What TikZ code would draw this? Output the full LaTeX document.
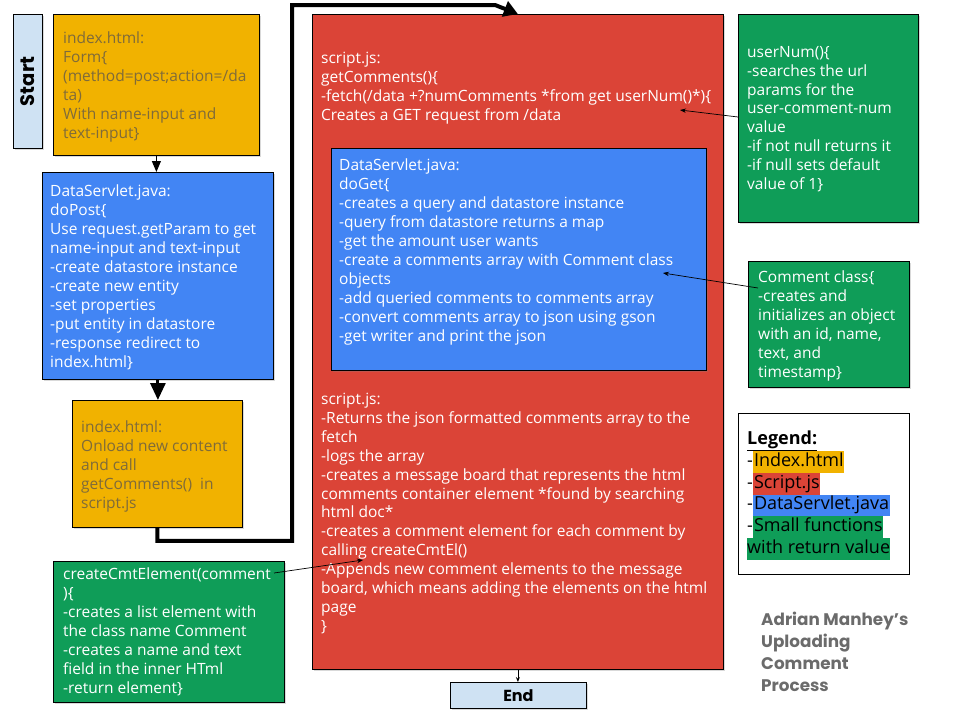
\documentclass[tikz,border=0pt]{standalone}
\usepackage{fontspec}
\setmainfont{Open Sans}
\newfontfamily\titlefont{Poppins}
\usetikzlibrary{arrows.meta,shadows}
\definecolor{gorange}{HTML}{F1B200}
\definecolor{gred}{HTML}{DB4437}
\definecolor{gblue}{HTML}{4285F4}
\definecolor{ggreen}{HTML}{0F9D58}
\definecolor{lblue}{HTML}{CFE2F3}
\definecolor{otext}{HTML}{7F6B3A}
\definecolor{ttext}{HTML}{6B6B6B}
\newcommand\bodyfont{\fontsize{15.5}{18.9}\selectfont}
\begin{document}
\begin{tikzpicture}[x=1pt,y=-1pt,
  box/.style={draw=black, line width=0.8pt, anchor=north west, inner sep=0pt,
    drop shadow={shadow xshift=1.2pt, shadow yshift=-1.5pt, opacity=0.3}},
  txt/.style={anchor=north west, inner sep=0pt, align=left, font=\bodyfont},
  thinarrow/.style={draw=black, line width=0.7pt, -{Stealth[length=6pt,width=4.5pt]}},
  hl/.style={anchor=west, inner xsep=0.6pt, inner ysep=0pt, text height=15.2pt, text depth=6.5pt, font=\fontsize{18}{21.7}\selectfont},
  bold/.style={font=\titlefont\bfseries\fontsize{16}{20}\selectfont}]
\useasboundingbox (0,0) rectangle (960,720);
% boxes
\node[box, fill=lblue, minimum width=29, minimum height=134] (st) at (13,14) {};
\node[rotate=90, font=\titlefont\bfseries\fontsize{19.5}{20}\selectfont] (stT) at (st.center) {Start};
\node[box, fill=gorange, minimum width=206, minimum height=141] (i1) at (53,14) {};
\node[box, fill=gblue, minimum width=231, minimum height=207] (ds) at (42,172) {};
\node[box, fill=gorange, minimum width=170, minimum height=127] (i2) at (72,400) {};
\node[box, fill=ggreen, minimum width=231, minimum height=141] (cc) at (53,561) {};
\node[box, fill=gred, minimum width=411, minimum height=655] (rd) at (312,14) {};
\node[box, fill=gblue, minimum width=375, minimum height=222] (dg) at (331,148) {};
\node[box, fill=lblue, minimum width=136, minimum height=26] (en) at (450,682) {};
\node[bold] (enT) at (en.center) {End};
\node[box, fill=ggreen, minimum width=180, minimum height=208] (un) at (738,14) {};
\node[box, fill=ggreen, minimum width=161, minimum height=126] (cm) at (748,261) {};
\node[draw=black, line width=0.8pt, fill=white, anchor=north west, inner sep=0pt, minimum width=171, minimum height=161] (lg) at (738,413) {};
% texts
\node[txt, text=otext] (i1T) at (63,32) {index.html:\\Form\{\\(method=post;action=/da\\ta)\\With name-input and\\text-input\}};
\node[txt, text=white] (dsT) at (50,185) {DataServlet.java:\\doPost\{\\Use request.getParam to get\\name-input and text-input\\-create datastore instance\\-create new entity\\-set properties\\-put entity in datastore\\-response redirect to\\index.html\}};
\node[txt, text=otext] (i2T) at (81,421) {index.html:\\Onload new content\\and call\\getComments()\ \ in\\script.js};
\node[txt, text=white] (ccT) at (63,568) {createCmtElement(comment\\)\{\\-creates a list element with\\the class name Comment\\-creates a name and text\\field in the inner HTml\\-return element\}};
\node[txt, text=white] (rdT1) at (321,52) {script.js:\\getComments()\{\\-fetch(/data +?numComments *from get userNum()*)\{\\Creates a GET request from /data};
\node[txt, text=white] (dgT) at (339,159) {DataServlet.java:\\doGet\{\\-creates a query and datastore instance\\-query from datastore returns a map\\-get the amount user wants\\-create a comments array with Comment class\\objects\\-add queried comments to comments array\\-convert comments array to json using gson\\-get writer and print the json};
\node[txt, text=white] (rdT2) at (321,393) {script.js:\\-Returns the json formatted comments array to the\\fetch\\-logs the array\\-creates a message board that represents the html\\comments container element *found by searching\\html doc*\\-creates a comment element for each comment by\\calling createCmtEl()\\-Appends new comment elements to the message\\board, which means adding the elements on the html\\page\\\}};
\node[txt, text=white] (unT) at (747,46) {userNum()\{\\-searches the url\\params for the\\user-comment-num\\value\\-if not null returns it\\-if null sets default\\value of 1\}};
\node[txt, text=white] (cmT) at (758,271) {Comment class\{\\-creates and\\initializes an object\\with an id, name,\\text, and\\timestamp\}};
% legend
\node[hl, anchor=west, inner xsep=0pt] (lg0) at (747,440) {\underline{\textbf{Legend:}}};
\node[hl, inner xsep=0pt] (lgd1) at (747,462) {-};
\node[hl, fill=gorange] (lg1) at (lgd1.east) {Index.html};
\node[hl, inner xsep=0pt] (lgd2) at (747,483.7) {-};
\node[hl, fill=gred] (lg2) at (lgd2.east) {Script.js};
\node[hl, inner xsep=0pt] (lgd3) at (747,505.4) {-};
\node[hl, fill=gblue] (lg3) at (lgd3.east) {DataServlet.java};
\node[hl, inner xsep=0pt] (lgd4) at (747,527.1) {-};
\node[hl, fill=ggreen] (lg4) at (lgd4.east) {Small functions};
\node[hl, fill=ggreen, inner xsep=0pt] (lg5) at (747,548.8) {with return value};
% title
\node[anchor=north west, inner sep=0pt, align=left, text=ttext, font=\titlefont\bfseries\fontsize{16.8}{22}\selectfont] (tt) at (761,612) {Adrian Manhey’s\\Uploading\\Comment\\Process};
% connectors
\draw[line width=1pt, -{Triangle[length=11pt,width=9pt]}] (i1.south) -- (i1.south |- ds.north);
\draw[line width=3pt, -{Triangle[length=17pt,width=15pt]}] (ds.south) -- (ds.south |- i2.north);
\coordinate (lpA) at (292,5);
\coordinate (lpB) at (495,5);
\draw[line width=4pt, line join=miter, -{Triangle[length=14pt,width=16pt]}] (i2.south) -- ++(0,13) -| (lpA) -- (lpB) -- (rd.north);
\draw[line width=0.8pt, -{Stealth[length=5pt,width=4pt]}] (rd.south) -- (rd.south |- en.north);
\coordinate (unE) at (680,110);
\draw[thinarrow] (un.west |- 0,117) -- (unE);
\coordinate (cmS) at (758,288);
\coordinate (cmE) at (663,273);
\draw[thinarrow] (cmS) -- (cmE);
\coordinate (ccS) at (274,573);
\coordinate (ccE) at (363,560);
\draw[thinarrow] (ccS) -- (ccE);
\end{tikzpicture}
\end{document}
